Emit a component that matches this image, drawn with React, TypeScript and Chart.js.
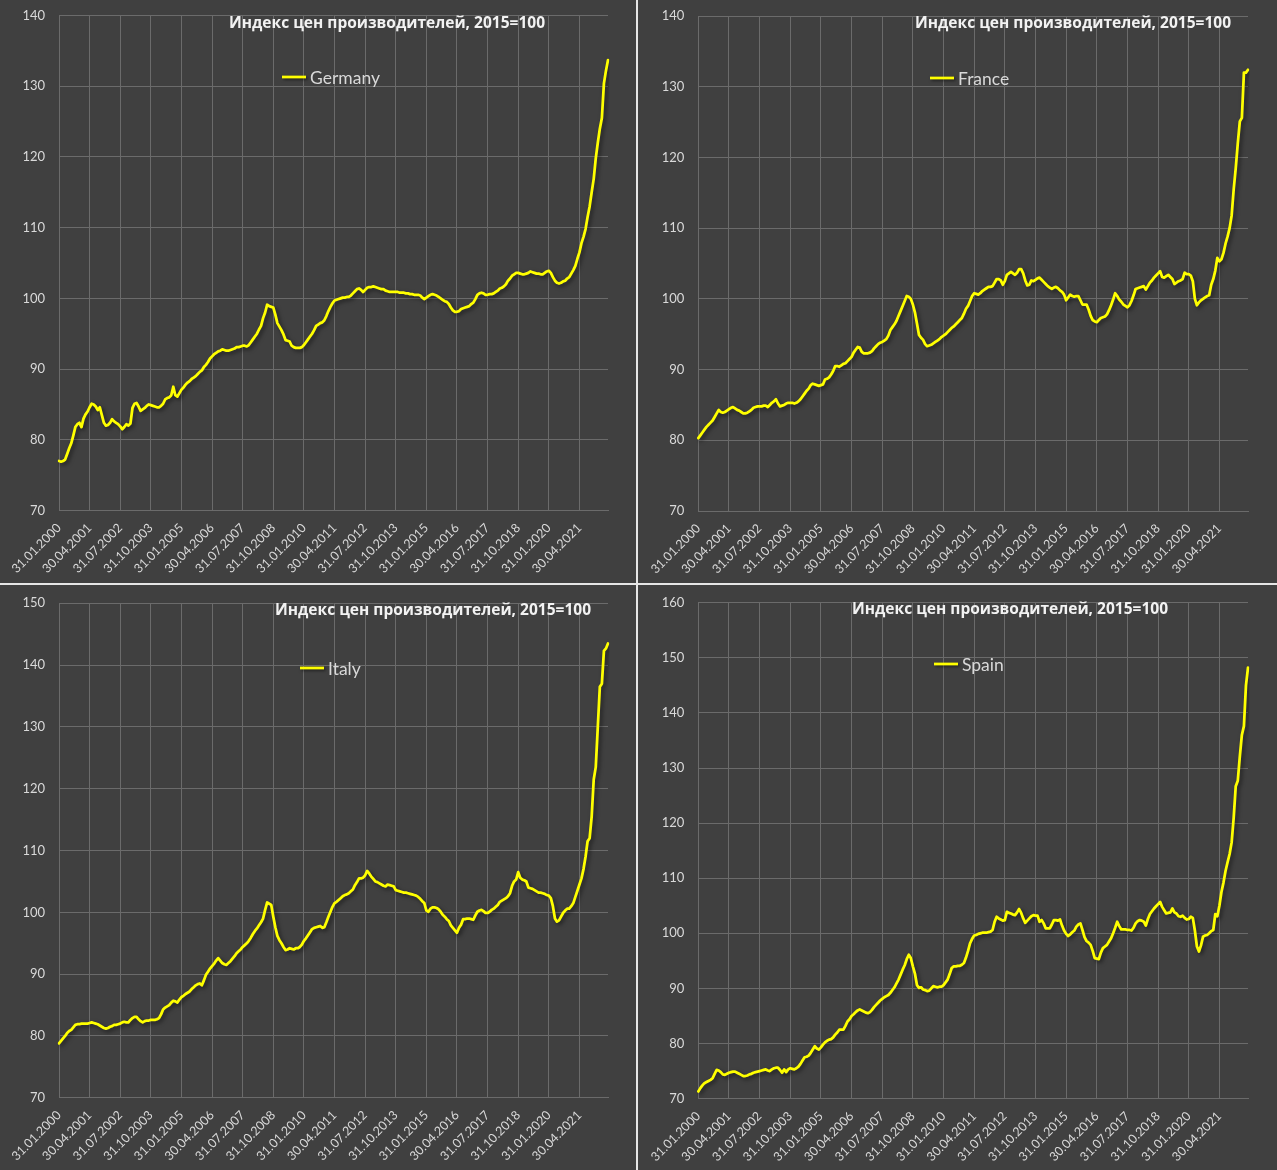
import React, { useEffect, useRef } from "react";
import { Chart, registerables } from "chart.js";

Chart.register(...registerables);

// ---------- categories (month-end dates, Jan 2000 .. Jun 2022) ----------
const START_YEAR = 2000;
const N_MONTHS = 270;
const TICK_STEP = 15;

function monthEndLabel(i: number): string {
  const y = START_YEAR + Math.floor(i / 12);
  const m = i % 12;
  const last = new Date(y, m + 1, 0).getDate();
  const dd = String(last).padStart(2, "0");
  const mm = String(m + 1).padStart(2, "0");
  return `${dd}.${mm}.${y}`;
}
const CATEGORIES: string[] = Array.from({ length: N_MONTHS }, (_, i) => monthEndLabel(i));

const TICK_LABELS = [
  "31.01.2000", "30.04.2001", "31.07.2002", "31.10.2003", "31.01.2005", "30.04.2006",
  "31.07.2007", "31.10.2008", "31.01.2010", "30.04.2011", "31.07.2012", "31.10.2013",
  "31.01.2015", "30.04.2016", "31.07.2017", "31.10.2018", "31.01.2020", "30.04.2021",
];

const TITLE = "Индекс цен производителей, 2015=100";

// ---------- series (producer price index, 2015 = 100) ----------
const GERMANY = [
  77.0, 76.9, 77.0, 77.2, 78.0, 78.8, 79.5, 80.6, 81.8, 82.2, 82.4, 81.8,
  83.0, 83.6, 84.0, 84.6, 85.1, 85.0, 84.7, 84.2, 84.6, 83.5, 82.4, 82.0,
  82.1, 82.4, 82.9, 82.6, 82.4, 82.2, 81.9, 81.5, 81.8, 82.2, 82.0, 82.3,
  84.5, 85.1, 85.2, 84.7, 84.1, 84.3, 84.5, 84.8, 85.0, 84.9, 84.8, 84.7,
  84.6, 84.6, 84.8, 85.1, 85.7, 85.9, 86.0, 86.3, 87.5, 86.3, 86.1, 86.6,
  87.1, 87.4, 87.8, 88.1, 88.3, 88.6, 88.8, 89.0, 89.3, 89.6, 89.8, 90.3,
  90.6, 91.0, 91.5, 91.8, 92.1, 92.3, 92.5, 92.6, 92.8, 92.7, 92.6, 92.6,
  92.7, 92.8, 92.9, 93.1, 93.1, 93.2, 93.3, 93.3, 93.2, 93.4, 93.8, 94.2,
  94.6, 95.0, 95.6, 96.1, 97.2, 98.0, 99.1, 98.9, 98.8, 98.7, 97.7, 96.5,
  96.0, 95.5, 94.9, 94.1, 94.0, 93.9, 93.3, 93.1, 93.0, 93.0, 93.0, 93.1,
  93.4, 93.8, 94.2, 94.6, 95.0, 95.5, 96.1, 96.3, 96.5, 96.6, 96.9, 97.5,
  98.2, 98.8, 99.3, 99.7, 99.8, 99.9, 100.0, 100.1, 100.1, 100.2, 100.2, 100.4,
  100.7, 101.0, 101.3, 101.4, 101.2, 100.9, 101.2, 101.5, 101.6, 101.6, 101.7, 101.6,
  101.5, 101.4, 101.3, 101.3, 101.1, 101.0, 100.9, 100.9, 100.9, 100.9, 100.9, 100.8,
  100.8, 100.8, 100.7, 100.7, 100.6, 100.6, 100.5, 100.5, 100.5, 100.4, 100.1, 99.9,
  100.1, 100.3, 100.5, 100.6, 100.5, 100.4, 100.2, 100.0, 99.8, 99.6, 99.5, 99.2,
  98.7, 98.3, 98.1, 98.1, 98.2, 98.5, 98.6, 98.7, 98.8, 98.9, 99.2, 99.4,
  99.9, 100.5, 100.7, 100.8, 100.7, 100.5, 100.5, 100.6, 100.6, 100.7, 100.9, 101.1,
  101.4, 101.5, 101.7, 102.0, 102.5, 102.8, 103.2, 103.4, 103.6, 103.6, 103.5, 103.4,
  103.4, 103.5, 103.6, 103.8, 103.7, 103.6, 103.5, 103.5, 103.4, 103.4, 103.6, 103.8,
  103.9, 103.6, 103.0, 102.5, 102.2, 102.1, 102.2, 102.4, 102.5, 102.8, 103.0, 103.5,
  104.0, 104.6, 105.6, 106.5, 107.8, 108.7, 109.8, 111.5, 113.0, 115.0, 116.9, 119.8,
  122.0, 124.0, 125.5, 130.4, 132.2, 133.7,
];

const FRANCE = [
  80.3, 80.7, 81.1, 81.5, 81.9, 82.2, 82.5, 82.8, 83.3, 83.8, 84.3, 84.0,
  83.9, 84.0, 84.2, 84.4, 84.6, 84.7, 84.5, 84.3, 84.2, 84.0, 83.8, 83.8,
  83.9, 84.1, 84.3, 84.6, 84.7, 84.8, 84.8, 84.8, 84.9, 84.9, 84.7, 85.0,
  85.3, 85.5, 85.8, 85.2, 84.8, 84.9, 85.0, 85.2, 85.3, 85.3, 85.3, 85.2,
  85.3, 85.5, 85.8, 86.2, 86.6, 87.0, 87.3, 87.8, 88.0, 87.9, 87.8, 87.7,
  87.8, 87.9, 88.6, 88.7, 88.9, 89.3, 89.8, 90.5, 90.5, 90.4, 90.6, 90.8,
  90.9, 91.2, 91.5, 91.8, 92.4, 92.8, 93.2, 93.1, 92.5, 92.3, 92.3, 92.3,
  92.4, 92.6, 93.0, 93.3, 93.6, 93.8, 93.9, 94.1, 94.3, 94.8, 95.6, 96.0,
  96.4, 96.9, 97.6, 98.3, 99.0, 99.7, 100.4, 100.3, 100.0, 99.2, 98.1, 96.5,
  94.9, 94.5, 94.2, 93.6, 93.3, 93.4, 93.5, 93.7, 93.9, 94.1, 94.3, 94.6,
  94.8, 95.0, 95.3, 95.6, 95.9, 96.1, 96.4, 96.7, 97.0, 97.3, 97.9, 98.6,
  99.0, 99.7, 100.4, 100.8, 100.7, 100.6, 100.8, 101.1, 101.3, 101.5, 101.7, 101.7,
  101.8, 102.3, 102.8, 102.8, 102.6, 102.0, 102.5, 103.4, 103.6, 103.8, 103.6, 103.4,
  103.7, 104.2, 104.2, 103.6, 102.6, 101.9, 102.0, 102.6, 102.5, 102.7, 102.9, 103.0,
  102.7, 102.4, 102.1, 101.8, 101.6, 101.4, 101.6, 101.7, 101.5, 101.2, 101.0, 100.6,
  99.8, 100.2, 100.6, 100.4, 100.3, 100.4, 100.4, 99.8, 99.2, 99.2, 99.2, 98.5,
  97.6, 97.0, 96.8, 96.7, 97.0, 97.3, 97.4, 97.5, 97.8, 98.4, 99.1, 99.9,
  100.8, 100.4, 99.9, 99.6, 99.2, 99.0, 98.8, 99.1, 99.7, 100.5, 101.4, 101.5,
  101.6, 101.7, 101.8, 101.3, 101.8, 102.3, 102.6, 103.0, 103.3, 103.6, 103.9, 103.1,
  103.0, 103.2, 103.4, 103.1, 102.8, 102.1, 102.3, 102.5, 102.6, 102.8, 103.7, 103.5,
  103.5, 103.3, 102.5, 100.0, 99.1, 99.5, 99.8, 100.0, 100.2, 100.4, 100.5, 102.0,
  102.8, 104.0, 105.8, 105.3, 105.6, 106.5, 107.8, 108.8, 110.0, 111.8, 115.5, 118.5,
  122.0, 125.1, 125.6, 132.0, 132.0, 132.4,
];

const ITALY = [
  78.8, 79.2, 79.6, 80.0, 80.5, 80.8, 81.0, 81.4, 81.8, 81.9, 81.9, 82.0,
  82.0, 82.0, 82.0, 82.1, 82.2, 82.1, 82.0, 81.9, 81.7, 81.5, 81.3, 81.2,
  81.3, 81.5, 81.6, 81.8, 81.8, 81.9, 82.0, 82.2, 82.3, 82.2, 82.2, 82.6,
  82.9, 83.1, 83.1, 82.7, 82.4, 82.2, 82.4, 82.5, 82.5, 82.6, 82.6, 82.6,
  82.7, 82.9, 83.5, 84.3, 84.6, 84.8, 85.0, 85.4, 85.7, 85.6, 85.4, 85.9,
  86.3, 86.5, 86.8, 87.0, 87.2, 87.6, 87.9, 88.2, 88.4, 88.5, 88.2, 89.0,
  89.9, 90.4, 90.9, 91.3, 91.7, 92.2, 92.6, 92.2, 91.8, 91.6, 91.5, 91.8,
  92.1, 92.5, 92.9, 93.4, 93.7, 94.0, 94.4, 94.7, 95.0, 95.4, 95.9, 96.5,
  97.0, 97.4, 97.9, 98.4, 99.0, 100.4, 101.6, 101.4, 101.2, 99.3, 97.6, 96.2,
  95.5, 95.0, 94.4, 93.9, 94.0, 94.2, 94.1, 94.0, 94.2, 94.2, 94.4, 94.8,
  95.4, 95.8, 96.3, 96.8, 97.3, 97.5, 97.6, 97.7, 97.8, 97.5, 97.6, 98.4,
  99.3, 100.1, 100.9, 101.5, 101.7, 102.0, 102.3, 102.6, 102.8, 102.9, 103.1, 103.4,
  103.7, 104.4, 104.9, 105.5, 105.5, 105.6, 106.0, 106.7, 106.3, 105.8, 105.4, 105.0,
  104.9, 104.7, 104.5, 104.3, 104.2, 104.5, 104.4, 104.3, 104.2, 103.6, 103.5, 103.4,
  103.3, 103.2, 103.2, 103.1, 103.0, 102.9, 102.8, 102.7, 102.5, 102.2, 101.8, 101.5,
  100.3, 100.1, 100.6, 100.8, 100.8, 100.7, 100.5, 100.1, 99.6, 99.3, 98.9, 98.6,
  97.9, 97.5, 97.1, 96.7, 97.5, 98.0, 98.9, 98.9, 99.0, 99.0, 98.9, 98.8,
  99.5, 100.1, 100.3, 100.4, 100.2, 99.9, 99.9, 100.1, 100.4, 100.6, 100.9, 101.2,
  101.7, 101.9, 102.1, 102.3, 102.6, 103.1, 104.3, 105.0, 105.3, 106.5, 105.6, 105.3,
  105.2, 105.0, 104.0, 103.9, 103.8, 103.6, 103.4, 103.2, 103.2, 103.1, 103.0, 102.8,
  102.7, 102.3, 101.0, 99.0, 98.5, 98.7, 99.3, 99.9, 100.3, 100.6, 100.6, 101.0,
  101.5, 102.5, 103.5, 104.5, 105.5, 107.0, 109.0, 111.5, 112.0, 115.5, 121.5, 123.5,
  130.0, 136.5, 137.0, 142.3, 142.7, 143.5,
];

const SPAIN = [
  71.3, 71.9, 72.4, 72.8, 73.0, 73.2, 73.4, 73.7, 74.5, 75.2, 75.1, 74.8,
  74.4, 74.3, 74.5, 74.7, 74.8, 74.9, 74.9, 74.7, 74.5, 74.3, 74.1, 74.1,
  74.2, 74.4, 74.5, 74.7, 74.8, 74.9, 75.0, 75.1, 75.2, 75.3, 75.1, 75.0,
  75.3, 75.5, 75.6, 75.6, 75.2, 74.7, 75.3, 74.8, 75.3, 75.5, 75.4, 75.3,
  75.5, 75.8, 76.3, 76.9, 77.5, 77.6, 77.8, 78.3, 78.9, 79.5, 79.1, 78.9,
  79.3, 79.8, 80.2, 80.5, 80.7, 80.8, 81.1, 81.6, 82.0, 82.5, 82.5, 82.5,
  83.2, 84.0, 84.4, 85.0, 85.3, 85.7, 86.0, 86.2, 86.0, 85.8, 85.6, 85.5,
  85.7, 86.1, 86.6, 87.0, 87.4, 87.8, 88.1, 88.4, 88.6, 88.8, 89.2, 89.7,
  90.2, 90.9, 91.6, 92.5, 93.4, 94.2, 95.3, 96.1, 95.5, 94.0, 92.7, 90.6,
  90.1, 90.2, 89.8, 89.7, 89.5, 89.6, 90.0, 90.4, 90.3, 90.2, 90.3, 90.3,
  90.6, 91.1, 91.6, 92.6, 93.7, 94.0, 94.0, 94.1, 94.1, 94.3, 94.6, 95.6,
  96.8, 98.2, 99.0, 99.6, 99.7, 99.9, 100.0, 100.1, 100.1, 100.1, 100.2, 100.3,
  100.6, 102.1, 103.0, 102.7, 102.5, 102.3, 102.4, 103.9, 103.7, 103.6, 103.4, 103.3,
  103.8, 104.4, 103.7, 102.7, 101.9, 102.3, 102.7, 103.1, 103.3, 103.2, 103.2, 102.1,
  102.4, 101.8, 100.9, 100.9, 100.9, 101.6, 102.4, 102.4, 102.3, 102.5, 101.4, 100.5,
  99.9, 99.5, 99.8, 100.2, 100.5, 101.2, 101.6, 101.8, 100.6, 99.3, 98.6, 98.3,
  97.9, 96.8, 95.5, 95.4, 95.3, 96.5, 97.3, 97.6, 97.9, 98.5, 99.1, 100.0,
  101.0, 102.1, 101.3, 100.7, 100.7, 100.7, 100.6, 100.6, 100.5, 101.0, 101.8, 102.2,
  102.4, 102.3, 102.1, 101.4, 102.6, 103.5, 104.0, 104.5, 104.9, 105.3, 105.7, 104.8,
  104.2, 103.6, 103.7, 103.8, 104.5, 103.8, 103.6, 103.1, 103.0, 103.2, 102.8, 102.5,
  102.6, 103.0, 102.8, 100.5, 97.6, 96.7, 97.8, 99.4, 99.6, 99.7, 100.0, 100.4,
  100.6, 103.5, 103.1, 105.0, 107.5, 109.2, 111.3, 112.9, 114.4, 116.5, 121.0, 126.7,
  127.7, 132.1, 136.0, 137.6, 145.0, 148.2,
];

// ---------- styles ----------
const BG = "#404040";
const DIVIDER = "#e6e6e6";
const GRID = "#6b6b6b";
const TICK_COLOR = "#d9d9d9";
const LINE_COLOR = "#ffff00";
const FONT = "Lato, 'Open Sans', sans-serif";
const TITLE_FONT = "'Open Sans', 'Noto Sans', sans-serif";

type PanelCfg = {
  key: string;
  label: string;
  data: number[];
  yMin: number;
  yMax: number;
  left: number;
  top: number;
  w: number;
  h: number;
  plot: { l: number; t: number; r: number; b: number };
  title: { x: number; y: number; width: number };
  legend: { x: number; y: number };
};

const PANELS: PanelCfg[] = [
  {
    key: "de", label: "Germany", data: GERMANY, yMin: 70, yMax: 140,
    left: 0, top: 0, w: 636, h: 583,
    plot: { l: 59, t: 15.5, r: 608, b: 510.5 },
    title: { x: 387, y: 23, width: 316 },
    legend: { x: 282, y: 77 },
  },
  {
    key: "fr", label: "France", data: FRANCE, yMin: 70, yMax: 140,
    left: 638, top: 0, w: 639, h: 583,
    plot: { l: 60.3, t: 16, r: 610, b: 511 },
    title: { x: 435, y: 23, width: 316 },
    legend: { x: 292, y: 78 },
  },
  {
    key: "it", label: "Italy", data: ITALY, yMin: 70, yMax: 150,
    left: 0, top: 585, w: 636, h: 585,
    plot: { l: 59, t: 18.3, r: 608, b: 512.8 },
    title: { x: 433, y: 25, width: 316 },
    legend: { x: 300, y: 83 },
  },
  {
    key: "es", label: "Spain", data: SPAIN, yMin: 70, yMax: 160,
    left: 638, top: 585, w: 639, h: 585,
    plot: { l: 60.3, t: 17.7, r: 610, b: 513.6 },
    title: { x: 372, y: 24, width: 316 },
    legend: { x: 296, y: 79 },
  },
];

// shadow under the series line
const lineShadow = {
  id: "lineShadow",
  beforeDatasetsDraw(chart: any) {
    const ctx = chart.ctx;
    ctx.save();
    ctx.shadowColor = "rgba(0,0,0,0.55)";
    ctx.shadowBlur = 4;
    ctx.shadowOffsetX = 2;
    ctx.shadowOffsetY = 2;
  },
  afterDatasetsDraw(chart: any) {
    chart.ctx.restore();
  },
};

// title + in-plot legend
const panelDecor = {
  id: "panelDecor",
  afterDraw(chart: any, _args: any, opts: any) {
    const ctx = chart.ctx;
    ctx.save();
    // title
    ctx.font = `bold 16px ${TITLE_FONT}`;
    ctx.fillStyle = "#f2f2f2";
    ctx.textBaseline = "middle";
    ctx.textAlign = "center";
    const tw = ctx.measureText(opts.title).width;
    const sx = Math.min(1, opts.titleWidth / tw);
    ctx.save();
    ctx.translate(opts.titleX, opts.titleY);
    ctx.scale(sx, 1);
    ctx.fillText(opts.title, 0, 0);
    ctx.restore();

    // legend
    const lx = opts.legendX;
    const ly = opts.legendY;
    ctx.save();
    ctx.shadowColor = "rgba(0,0,0,0.5)";
    ctx.shadowBlur = 3;
    ctx.shadowOffsetX = 1.5;
    ctx.shadowOffsetY = 1.5;
    ctx.strokeStyle = LINE_COLOR;
    ctx.lineWidth = 2.75;
    ctx.beginPath();
    ctx.moveTo(lx, ly);
    ctx.lineTo(lx + 24, ly);
    ctx.stroke();
    ctx.restore();
    ctx.font = `17.5px ${FONT}`;
    ctx.fillStyle = TICK_COLOR;
    ctx.textAlign = "left";
    ctx.textBaseline = "middle";
    ctx.fillText(opts.legendLabel, lx + 28, ly + 1);
    ctx.restore();
  },
};

function Panel({ cfg }: { cfg: PanelCfg }) {
  const ref = useRef<HTMLCanvasElement | null>(null);

  useEffect(() => {
    if (!ref.current) return;
    const p = cfg.plot;
    const chart = new Chart(ref.current, {
      type: "line",
      data: {
        labels: CATEGORIES,
        datasets: [
          {
            label: cfg.label,
            data: cfg.data,
            borderColor: LINE_COLOR,
            borderWidth: 2.75,
            pointRadius: 0,
            pointHoverRadius: 0,
            tension: 0,
            fill: false,
            borderJoinStyle: "round",
            borderCapStyle: "round",
          },
        ],
      },
      options: {
        responsive: false,
        animation: false,
        events: [],
        layout: {
          padding: { left: 0, top: p.t, right: cfg.w - p.r, bottom: 0 },
        },
        plugins: {
          legend: { display: false },
          title: { display: false },
          tooltip: { enabled: false },
          panelDecor: {
            title: TITLE,
            titleX: cfg.title.x,
            titleY: cfg.title.y,
            titleWidth: cfg.title.width,
            legendLabel: cfg.label,
            legendX: cfg.legend.x,
            legendY: cfg.legend.y,
          },
        } as any,
        scales: {
          x: {
            type: "category",
            offset: false,
            afterFit: (scale: any) => {
              scale.height = cfg.h - p.b;
              scale.paddingLeft = 0;
              scale.paddingRight = 0;
            },
            grid: {
              drawTicks: false,
              lineWidth: 1,
              color: (ctx: any) => (ctx.index % TICK_STEP === 0 ? GRID : "rgba(0,0,0,0)"),
            },
            border: { display: true, color: GRID, width: 1 },
            ticks: {
              autoSkip: false,
              maxRotation: 45,
              minRotation: 45,
              padding: 10,
              color: TICK_COLOR,
              font: { family: FONT, size: 12.5 },
              callback: (_v: any, index: number) =>
                index % TICK_STEP === 0 ? TICK_LABELS[index / TICK_STEP] ?? "" : "",
            },
          },
          y: {
            type: "linear",
            min: cfg.yMin,
            max: cfg.yMax,
            afterFit: (scale: any) => {
              scale.width = p.l;
              scale.paddingTop = 0;
              scale.paddingBottom = 0;
            },
            grid: { drawTicks: false, color: GRID, lineWidth: 1 },
            border: { display: false },
            ticks: {
              stepSize: 10,
              padding: 14,
              color: TICK_COLOR,
              font: { family: FONT, size: 13 },
            },
          },
        },
      },
      plugins: [lineShadow, panelDecor],
    });
    return () => chart.destroy();
  }, [cfg]);

  return (
    <div
      style={{
        position: "absolute",
        left: cfg.left,
        top: cfg.top,
        width: cfg.w,
        height: cfg.h,
        background: BG,
        overflow: "hidden",
      }}
    >
      <canvas ref={ref} width={cfg.w} height={cfg.h} style={{ display: "block" }} />
    </div>
  );
}

export default function App() {
  return (
    <div
      style={{
        position: "absolute",
        left: 0,
        top: 0,
        width: 1277,
        height: 1170,
        background: DIVIDER,
        overflow: "hidden",
      }}
    >
      {PANELS.map((cfg) => (
        <Panel key={cfg.key} cfg={cfg} />
      ))}
    </div>
  );
}
